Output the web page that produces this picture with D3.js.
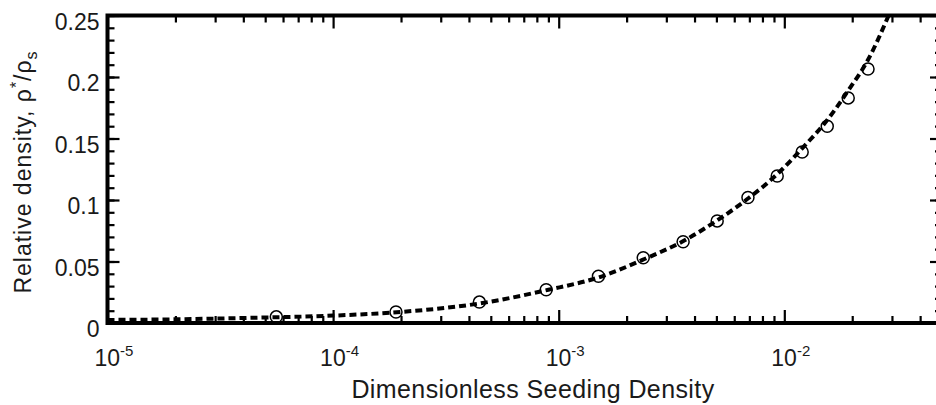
<!DOCTYPE html>
<html>
<head>
<meta charset="utf-8">
<script src="https://cdn.jsdelivr.net/npm/d3@7"></script>
<style>
  body { margin: 0; background: #fff; }
  svg { display: block; font-family: "Liberation Sans", Arial, sans-serif; }
</style>
</head>
<body>
<svg width="936" height="405"></svg>
<script>
// measured points (open circles)
let seedX = [5.6e-5, 1.9e-4, 4.45e-4, 8.8e-4, 1.5e-3, 2.37e-3, 3.56e-3, 5.04e-3, 6.9e-3, 9.3e-3, 1.2e-2, 1.55e-2, 1.92e-2, 2.35e-2];
let seedY = [0.005, 0.009, 0.017, 0.027, 0.038, 0.053, 0.066, 0.083, 0.102, 0.1195, 0.139, 0.160, 0.183, 0.2065];
// model curve (dashed)
let fitX = [1e-5, 2e-5, 5e-5, 1e-4, 2e-4, 4.5e-4, 9e-4, 1.5e-3, 2.4e-3, 3.6e-3, 5e-3, 7e-3, 9.3e-3, 1.2e-2, 1.55e-2, 1.92e-2, 2.35e-2, 2.9e-2];
let fitY = [0.0025, 0.003, 0.0045, 0.006, 0.009, 0.016, 0.027, 0.037, 0.052, 0.067, 0.083, 0.102, 0.121, 0.142, 0.165, 0.189, 0.214, 0.25];
// ticks
let xDecades = [1e-5, 1e-4, 1e-3, 1e-2];
let xExponents = ["-5", "-4", "-3", "-2"];
let yMajor = [0, 0.05, 0.1, 0.15, 0.2, 0.25];
let yMinor = d3.range(0, 0.2501, 0.01);

let svg = d3.select("svg");
let margin = {top: 15.5, left: 107.5};
let plotRight = 942, plotBottom = 323;

let x = d3.scaleLog().domain([1e-5, 0.05]).range([margin.left, plotRight]);
let y = d3.scaleLinear().domain([0, 0.25]).range([plotBottom, margin.top]);

let xMinor = [];
xDecades.forEach(function(d) {
  for (let k = 2; k <= 9; k++) if (d * k <= 0.05) xMinor.push(d * k);
});

svg.append("defs").append("clipPath").attr("id", "clip")
  .append("rect")
  .attr("x", margin.left).attr("y", margin.top)
  .attr("width", plotRight - margin.left).attr("height", plotBottom - margin.top);

// axes: ticks point inward on all four sides
function tickGroup(axis, tx, ty) {
  let g = svg.append("g").attr("transform", "translate(" + tx + "," + ty + ")").call(axis);
  g.select(".domain").remove();
  g.selectAll(".tick line").attr("stroke", "#000").attr("stroke-width", 2.2);
  return g;
}
tickGroup(d3.axisBottom(x).tickValues(xDecades).tickSize(-13).tickFormat(""), 0, plotBottom);
tickGroup(d3.axisBottom(x).tickValues(xMinor).tickSize(-7).tickFormat(""), 0, plotBottom);
tickGroup(d3.axisTop(x).tickValues(xDecades).tickSize(-13).tickFormat(""), 0, margin.top);
tickGroup(d3.axisTop(x).tickValues(xMinor).tickSize(-7).tickFormat(""), 0, margin.top);

let yAxisG = tickGroup(d3.axisLeft(y).tickValues(yMajor).tickSize(-12).tickPadding(8)
  .tickFormat(function(d) { return String(+d.toFixed(2)); }), margin.left, 0);
yAxisG.selectAll("text").attr("font-size", 23).attr("fill", "#1a1a1a")
  .attr("dy", "0.6em")
  .attr("font-family", "Liberation Sans, Arial, sans-serif");
tickGroup(d3.axisLeft(y).tickValues(yMinor).tickSize(-7).tickFormat(""), margin.left, 0);
tickGroup(d3.axisRight(y).tickValues(yMajor).tickSize(-12).tickFormat(""), plotRight, 0);
tickGroup(d3.axisRight(y).tickValues(yMinor).tickSize(-7).tickFormat(""), plotRight, 0);

// frame
svg.append("rect")
  .attr("x", margin.left).attr("y", margin.top)
  .attr("width", plotRight - margin.left).attr("height", plotBottom - margin.top)
  .attr("fill", "none").attr("stroke", "#000").attr("stroke-width", 4);

// x tick labels 10^n
let xl = svg.append("g").selectAll("text").data(xDecades).join("text")
  .attr("x", function(d) { return x(d) - 13; })
  .attr("y", 366)
  .attr("font-size", 23).attr("fill", "#1a1a1a");
xl.append("tspan").text("10");
xl.append("tspan").attr("dy", -10).attr("font-size", 15)
  .text(function(d, i) { return xExponents[i]; });

// dashed model curve
let plot = svg.append("g").attr("clip-path", "url(#clip)");
let fit = fitX.map(function(d, i) { return [d, fitY[i]]; });
plot.append("path")
  .datum(fit)
  .attr("fill", "none").attr("stroke", "#000").attr("stroke-width", 4)
  .attr("stroke-dasharray", "7,4")
  .attr("d", d3.line()
    .x(function(d) { return x(d[0]); })
    .y(function(d) { return y(d[1]); })
    .curve(d3.curveMonotoneX));

// data circles
plot.selectAll("circle").data(seedX).join("circle")
  .attr("cx", function(d) { return x(d); })
  .attr("cy", function(d, i) { return y(seedY[i]); })
  .attr("r", 6)
  .attr("fill", "none").attr("stroke", "#000").attr("stroke-width", 1.5);

// axis titles
svg.append("text")
  .attr("x", 533).attr("y", 398)
  .attr("text-anchor", "middle").attr("font-size", 25).attr("fill", "#1a1a1a")
  .attr("letter-spacing", 0.4)
  .text("Dimensionless Seeding Density");

let yt = svg.append("text")
  .attr("transform", "translate(31,172) rotate(-90)")
  .attr("text-anchor", "middle").attr("font-size", 23).attr("fill", "#1a1a1a")
  .attr("letter-spacing", 1);
yt.append("tspan").text("Relative density, ρ");
yt.append("tspan").attr("dy", -9).attr("font-size", 16).text("*");
yt.append("tspan").attr("dy", 9).text("/ρ");
yt.append("tspan").attr("dy", 6).attr("font-size", 16).text("s");
</script>
</body>
</html>
